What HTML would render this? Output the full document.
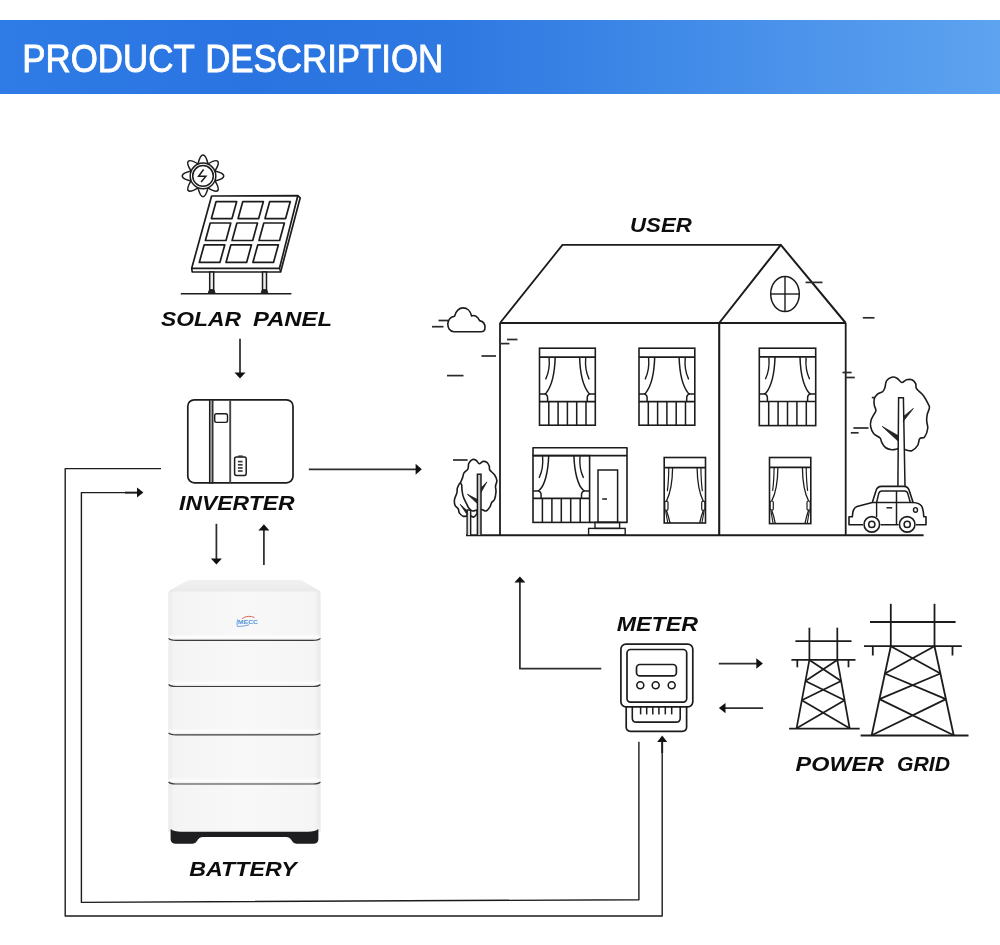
<!DOCTYPE html>
<html lang="en"><head><meta charset="utf-8"><title>Product Description</title>
<style>
html,body{margin:0;padding:0;background:#fff;}
body{width:1000px;height:945px;position:relative;overflow:hidden;font-family:"Liberation Sans",sans-serif;}
.banner{position:absolute;left:0;top:20px;width:1000px;height:74px;background:linear-gradient(90deg,#2f7ce6 0%,#2a74e1 25%,#2e78e2 45%,#3e88e7 65%,#5ea3f0 100%);}
svg{position:absolute;left:0;top:0;will-change:transform;}
</style></head><body>
<div class="banner"></div>
<svg width="1000" height="945" viewBox="0 0 1000 945">
<text y="72.2" font-family="'Liberation Sans', sans-serif" font-size="38.6" fill="#ffffff" stroke="#ffffff" stroke-width="0.9"><tspan x="22.2" textLength="171.9" lengthAdjust="spacingAndGlyphs">PRODUCT</tspan> <tspan x="205.2" textLength="238.1" lengthAdjust="spacingAndGlyphs">DESCRIPTION</tspan></text>
<g id="solar"><circle cx="203" cy="175.9" r="12.8" fill="none" stroke="#1c1c1c" stroke-width="1.5"/>
<circle cx="203" cy="175.9" r="10.3" fill="none" stroke="#1c1c1c" stroke-width="1.5"/>
<path d="M -5 -12 C -4 -16 -2.2 -20.8 0 -20.8 C 2.2 -20.8 4 -16 5 -12" fill="none" stroke="#1c1c1c" stroke-width="1.5" stroke-linejoin="round" transform="translate(203 175.9) rotate(0)"/>
<path d="M -5 -12 C -4 -16 -2.2 -20.8 0 -20.8 C 2.2 -20.8 4 -16 5 -12" fill="none" stroke="#1c1c1c" stroke-width="1.5" stroke-linejoin="round" transform="translate(203 175.9) rotate(45)"/>
<path d="M -5 -12 C -4 -16 -2.2 -20.8 0 -20.8 C 2.2 -20.8 4 -16 5 -12" fill="none" stroke="#1c1c1c" stroke-width="1.5" stroke-linejoin="round" transform="translate(203 175.9) rotate(90)"/>
<path d="M -5 -12 C -4 -16 -2.2 -20.8 0 -20.8 C 2.2 -20.8 4 -16 5 -12" fill="none" stroke="#1c1c1c" stroke-width="1.5" stroke-linejoin="round" transform="translate(203 175.9) rotate(135)"/>
<path d="M -5 -12 C -4 -16 -2.2 -20.8 0 -20.8 C 2.2 -20.8 4 -16 5 -12" fill="none" stroke="#1c1c1c" stroke-width="1.5" stroke-linejoin="round" transform="translate(203 175.9) rotate(180)"/>
<path d="M -5 -12 C -4 -16 -2.2 -20.8 0 -20.8 C 2.2 -20.8 4 -16 5 -12" fill="none" stroke="#1c1c1c" stroke-width="1.5" stroke-linejoin="round" transform="translate(203 175.9) rotate(225)"/>
<path d="M -5 -12 C -4 -16 -2.2 -20.8 0 -20.8 C 2.2 -20.8 4 -16 5 -12" fill="none" stroke="#1c1c1c" stroke-width="1.5" stroke-linejoin="round" transform="translate(203 175.9) rotate(270)"/>
<path d="M -5 -12 C -4 -16 -2.2 -20.8 0 -20.8 C 2.2 -20.8 4 -16 5 -12" fill="none" stroke="#1c1c1c" stroke-width="1.5" stroke-linejoin="round" transform="translate(203 175.9) rotate(315)"/>
<path d="M 203.6 169.5 L 198.6 176.2 L 205.9 176.2 L 201.1 181.9" fill="none" stroke="#1c1c1c" stroke-width="1.5" stroke-linejoin="miter"/>
<polygon points="211.6,196.0 297.8,195.7 279.5,268.3 191.7,268.3" fill="none" stroke="#1c1c1c" stroke-width="1.70" stroke-linejoin="round" />
<polyline points="297.8,195.7 300.2,197.8 280.6,272.0 192.2,272.0 191.7,268.3" fill="none" stroke="#1c1c1c" stroke-width="1.70" stroke-linejoin="round" />
<line x1="279.5" y1="268.3" x2="280.6" y2="272.0" stroke="#1c1c1c" stroke-width="1.30" />
<polygon points="216.1,201.6 236.7,201.6 232.0,218.6 211.4,218.6" fill="none" stroke="#1c1c1c" stroke-width="1.70" stroke-linejoin="round" />
<polygon points="242.8,201.6 263.4,201.6 258.7,218.6 238.1,218.6" fill="none" stroke="#1c1c1c" stroke-width="1.70" stroke-linejoin="round" />
<polygon points="269.7,201.6 290.3,201.6 285.6,218.6 265.0,218.6" fill="none" stroke="#1c1c1c" stroke-width="1.70" stroke-linejoin="round" />
<polygon points="210.2,223.0 230.8,223.0 226.0,240.5 205.4,240.5" fill="none" stroke="#1c1c1c" stroke-width="1.70" stroke-linejoin="round" />
<polygon points="236.9,223.0 257.5,223.0 252.7,240.5 232.1,240.5" fill="none" stroke="#1c1c1c" stroke-width="1.70" stroke-linejoin="round" />
<polygon points="263.8,223.0 284.4,223.0 279.6,240.5 259.0,240.5" fill="none" stroke="#1c1c1c" stroke-width="1.70" stroke-linejoin="round" />
<polygon points="204.2,244.8 224.8,244.8 219.9,262.4 199.3,262.4" fill="none" stroke="#1c1c1c" stroke-width="1.70" stroke-linejoin="round" />
<polygon points="230.9,244.8 251.5,244.8 246.6,262.4 226.0,262.4" fill="none" stroke="#1c1c1c" stroke-width="1.70" stroke-linejoin="round" />
<polygon points="257.8,244.8 278.4,244.8 273.5,262.4 252.9,262.4" fill="none" stroke="#1c1c1c" stroke-width="1.70" stroke-linejoin="round" />
<rect x="209.7" y="272" width="4" height="18" fill="#eee" stroke="#1c1c1c" stroke-width="1.5"/>
<path d="M 208.2 293.4 l 1.2 -3.4 h 4.6 l 1.2 3.4 z" fill="#222" stroke="#1c1c1c" stroke-width="1"/>
<rect x="262.5" y="272" width="4" height="18" fill="#eee" stroke="#1c1c1c" stroke-width="1.5"/>
<path d="M 261.0 293.4 l 1.2 -3.4 h 4.6 l 1.2 3.4 z" fill="#222" stroke="#1c1c1c" stroke-width="1"/>
<line x1="180.8" y1="293.7" x2="291.4" y2="293.7" stroke="#1c1c1c" stroke-width="1.60" /></g>
<g id="inverter"><rect x="187.8" y="399.8" width="105.2" height="83" rx="6.5" fill="none" stroke="#1c1c1c" stroke-width="1.7"/>
<rect x="209.6" y="399.8" width="3.2" height="83" fill="#9a9a9a" stroke="#1c1c1c" stroke-width="1.3"/>
<line x1="230.2" y1="399.8" x2="230.2" y2="482.8" stroke="#444" stroke-width="1.90" />
<rect x="214.7" y="413.8" width="12.8" height="8.6" rx="1.8" fill="none" stroke="#1c1c1c" stroke-width="1.4"/>
<rect x="234.6" y="457" width="11.6" height="18.4" rx="1.8" fill="none" stroke="#1c1c1c" stroke-width="1.5"/>
<rect x="238.2" y="455.4" width="4.6" height="1.8" fill="#333"/>
<line x1="237.9" y1="461.6" x2="242.6" y2="461.6" stroke="#3a3a3a" stroke-width="1.70" />
<line x1="237.9" y1="464.8" x2="242.6" y2="464.8" stroke="#3a3a3a" stroke-width="1.70" />
<line x1="237.9" y1="468.0" x2="242.6" y2="468.0" stroke="#3a3a3a" stroke-width="1.70" />
<line x1="237.9" y1="471.0" x2="242.6" y2="471.0" stroke="#3a3a3a" stroke-width="1.70" /></g>
<g id="battery"><defs>
<linearGradient id="bg1" x1="0" x2="1" y1="0" y2="0"><stop offset="0" stop-color="#ebebec"/><stop offset="0.04" stop-color="#f4f4f5"/><stop offset="0.5" stop-color="#f8f8f8"/><stop offset="0.96" stop-color="#f5f5f5"/><stop offset="1" stop-color="#e9e9ea"/></linearGradient>
<linearGradient id="bg2" x1="0" x2="0" y1="0" y2="1"><stop offset="0" stop-color="#f1f1f2"/><stop offset="1" stop-color="#e9e9ea"/></linearGradient>
<linearGradient id="bsh" x1="0" x2="0" y1="0" y2="1"><stop offset="0" stop-color="#ffffff" stop-opacity="0.0"/><stop offset="0.6" stop-color="#ffffff" stop-opacity="0.9"/><stop offset="1" stop-color="#e4e4e6" stop-opacity="0.9"/></linearGradient>
</defs>
<path d="M 168.3 593 Q 168.6 591 170.4 590 L 186 581.2 Q 188 580 191 580 L 298 580 Q 301 580 303 581.2 L 318.6 590 Q 320.4 591 320.6 593 Z" fill="url(#bg2)"/>
<path d="M 168.3 595 Q 168.3 591.6 172 591.6 L 317 591.6 Q 320.6 591.6 320.6 595 L 320.6 832 L 168.3 832 Z" fill="url(#bg1)"/>
<path d="M 170.6 829 Q 174 831.8 181 831.8 L 308 831.8 Q 315 831.8 318.4 829 L 318.4 839 Q 318.4 843.8 313 843.8 L 296.5 843.8 Q 293.5 843.8 292 841 Q 290 837 286 837 L 203 837 Q 199 837 197 841 Q 195.5 843.8 192.5 843.8 L 176 843.8 Q 170.6 843.8 170.6 839 Z" fill="#1e1e20"/>
<rect x="169" y="633.9" width="151" height="6" fill="url(#bsh)"/>
<path d="M 168.6 638.4 Q 170.5 640.4 176 640.4 L 313 640.4 Q 318.5 640.4 320.4 638.4" fill="none" stroke="#3c3c3f" stroke-width="1.15"/>
<rect x="169" y="680.0" width="151" height="6" fill="url(#bsh)"/>
<path d="M 168.6 684.5 Q 170.5 686.5 176 686.5 L 313 686.5 Q 318.5 686.5 320.4 684.5" fill="none" stroke="#3c3c3f" stroke-width="1.15"/>
<rect x="169" y="728.3" width="151" height="6" fill="url(#bsh)"/>
<path d="M 168.6 732.8 Q 170.5 734.8 176 734.8 L 313 734.8 Q 318.5 734.8 320.4 732.8" fill="none" stroke="#3c3c3f" stroke-width="1.15"/>
<rect x="169" y="777.5" width="151" height="6" fill="url(#bsh)"/>
<path d="M 168.6 782.0 Q 170.5 784.0 176 784.0 L 313 784.0 Q 318.5 784.0 320.4 782.0" fill="none" stroke="#3c3c3f" stroke-width="1.15"/>
<text x="238" y="623.8" font-family="'Liberation Sans', sans-serif" font-weight="bold" font-size="6" fill="#4a8edb" textLength="20" lengthAdjust="spacingAndGlyphs">MECC</text>
<path d="M 242 618.6 Q 248 614.6 254.6 617.6" fill="none" stroke="#e0584d" stroke-width="0.9"/>
<path d="M 237.6 619.4 Q 236.4 624 237.4 626.4 Q 244 626.6 249 624.8" fill="none" stroke="#4a8edb" stroke-width="0.8"/></g>
<g id="house"><line x1="500.0" y1="323.0" x2="500.0" y2="535.2" stroke="#1c1c1c" stroke-width="1.80" />
<line x1="719.2" y1="323.0" x2="719.2" y2="535.2" stroke="#1c1c1c" stroke-width="2.10" />
<line x1="845.7" y1="323.0" x2="845.7" y2="535.2" stroke="#1c1c1c" stroke-width="1.80" />
<line x1="500.0" y1="323.0" x2="845.7" y2="323.0" stroke="#1c1c1c" stroke-width="1.80" />
<polyline points="500.0,323.0 562.5,244.9 780.8,244.9" fill="none" stroke="#1c1c1c" stroke-width="1.80" stroke-linejoin="round" />
<polyline points="719.2,323.0 780.8,244.9 845.7,323.0" fill="none" stroke="#1c1c1c" stroke-width="2.00" stroke-linejoin="round" />
<line x1="466.0" y1="535.2" x2="923.6" y2="535.2" stroke="#1c1c1c" stroke-width="1.90" />
<ellipse cx="785" cy="294" rx="14.3" ry="17.6" fill="none" stroke="#1c1c1c" stroke-width="1.5"/>
<line x1="785.0" y1="276.4" x2="785.0" y2="311.6" stroke="#1c1c1c" stroke-width="1.40" />
<line x1="770.7" y1="294.0" x2="799.3" y2="294.0" stroke="#1c1c1c" stroke-width="1.40" />
<rect x="539.5" y="348.2" width="55.8" height="77.0" fill="none" stroke="#1c1c1c" stroke-width="1.60"/>
<line x1="539.5" y1="357.1" x2="595.3" y2="357.1" stroke="#1c1c1c" stroke-width="1.60" />
<line x1="539.5" y1="401.6" x2="595.3" y2="401.6" stroke="#1c1c1c" stroke-width="1.60" />
<line x1="548.8" y1="401.6" x2="548.8" y2="425.2" stroke="#1c1c1c" stroke-width="1.52" />
<line x1="558.1" y1="401.6" x2="558.1" y2="425.2" stroke="#1c1c1c" stroke-width="1.52" />
<line x1="567.4" y1="401.6" x2="567.4" y2="425.2" stroke="#1c1c1c" stroke-width="1.52" />
<line x1="576.7" y1="401.6" x2="576.7" y2="425.2" stroke="#1c1c1c" stroke-width="1.52" />
<line x1="586.0" y1="401.6" x2="586.0" y2="425.2" stroke="#1c1c1c" stroke-width="1.52" />
<path d="M 555.2 357.1 C 554.7 374.1 551.0 387.1 546.1 393.1 Q 545.3 394.1 543.5 394.1 L 539.5 394.1" fill="none" stroke="#1c1c1c" stroke-width="1.5"/>
<path d="M 549.1 358.1 C 549.9 367.1 548.5 373.1 545.8 378.9" fill="none" stroke="#1c1c1c" stroke-width="1.4" stroke-linecap="round"/>
<path d="M 544.5 394.1 Q 547.6 394.5 547.6 398.1 L 547.6 401.6" fill="none" stroke="#1c1c1c" stroke-width="1.5"/>
<path d="M 579.6 357.1 C 580.1 374.1 583.8 387.1 588.7 393.1 Q 589.5 394.1 591.3 394.1 L 595.3 394.1" fill="none" stroke="#1c1c1c" stroke-width="1.5"/>
<path d="M 585.7 358.1 C 584.9 367.1 586.3 373.1 589.0 378.9" fill="none" stroke="#1c1c1c" stroke-width="1.4" stroke-linecap="round"/>
<path d="M 590.3 394.1 Q 587.2 394.5 587.2 398.1 L 587.2 401.6" fill="none" stroke="#1c1c1c" stroke-width="1.5"/>
<rect x="639.0" y="348.2" width="55.8" height="77.0" fill="none" stroke="#1c1c1c" stroke-width="1.60"/>
<line x1="639.0" y1="357.1" x2="694.8" y2="357.1" stroke="#1c1c1c" stroke-width="1.60" />
<line x1="639.0" y1="401.6" x2="694.8" y2="401.6" stroke="#1c1c1c" stroke-width="1.60" />
<line x1="648.3" y1="401.6" x2="648.3" y2="425.2" stroke="#1c1c1c" stroke-width="1.52" />
<line x1="657.6" y1="401.6" x2="657.6" y2="425.2" stroke="#1c1c1c" stroke-width="1.52" />
<line x1="666.9" y1="401.6" x2="666.9" y2="425.2" stroke="#1c1c1c" stroke-width="1.52" />
<line x1="676.2" y1="401.6" x2="676.2" y2="425.2" stroke="#1c1c1c" stroke-width="1.52" />
<line x1="685.5" y1="401.6" x2="685.5" y2="425.2" stroke="#1c1c1c" stroke-width="1.52" />
<path d="M 654.7 357.1 C 654.2 374.1 650.5 387.1 645.6 393.1 Q 644.8 394.1 643.0 394.1 L 639.0 394.1" fill="none" stroke="#1c1c1c" stroke-width="1.5"/>
<path d="M 648.6 358.1 C 649.4 367.1 648.0 373.1 645.3 378.9" fill="none" stroke="#1c1c1c" stroke-width="1.4" stroke-linecap="round"/>
<path d="M 644.0 394.1 Q 647.1 394.5 647.1 398.1 L 647.1 401.6" fill="none" stroke="#1c1c1c" stroke-width="1.5"/>
<path d="M 679.1 357.1 C 679.6 374.1 683.3 387.1 688.2 393.1 Q 689.0 394.1 690.8 394.1 L 694.8 394.1" fill="none" stroke="#1c1c1c" stroke-width="1.5"/>
<path d="M 685.2 358.1 C 684.4 367.1 685.8 373.1 688.5 378.9" fill="none" stroke="#1c1c1c" stroke-width="1.4" stroke-linecap="round"/>
<path d="M 689.8 394.1 Q 686.7 394.5 686.7 398.1 L 686.7 401.6" fill="none" stroke="#1c1c1c" stroke-width="1.5"/>
<rect x="759.3" y="348.2" width="56.4" height="77.4" fill="none" stroke="#1c1c1c" stroke-width="1.60"/>
<line x1="759.3" y1="356.9" x2="815.7" y2="356.9" stroke="#1c1c1c" stroke-width="1.60" />
<line x1="759.3" y1="401.5" x2="815.7" y2="401.5" stroke="#1c1c1c" stroke-width="1.60" />
<line x1="768.7" y1="401.5" x2="768.7" y2="425.6" stroke="#1c1c1c" stroke-width="1.52" />
<line x1="778.1" y1="401.5" x2="778.1" y2="425.6" stroke="#1c1c1c" stroke-width="1.52" />
<line x1="787.5" y1="401.5" x2="787.5" y2="425.6" stroke="#1c1c1c" stroke-width="1.52" />
<line x1="796.9" y1="401.5" x2="796.9" y2="425.6" stroke="#1c1c1c" stroke-width="1.52" />
<line x1="806.3" y1="401.5" x2="806.3" y2="425.6" stroke="#1c1c1c" stroke-width="1.52" />
<path d="M 775.0 356.9 C 774.5 373.9 770.8 386.9 765.9 393.0 Q 765.1 394.0 763.3 394.0 L 759.3 394.0" fill="none" stroke="#1c1c1c" stroke-width="1.5"/>
<path d="M 768.9 357.9 C 769.7 366.9 768.3 372.9 765.6 378.7" fill="none" stroke="#1c1c1c" stroke-width="1.4" stroke-linecap="round"/>
<path d="M 764.3 394.0 Q 767.4 394.4 767.4 398.0 L 767.4 401.5" fill="none" stroke="#1c1c1c" stroke-width="1.5"/>
<path d="M 800.0 356.9 C 800.5 373.9 804.2 386.9 809.1 393.0 Q 809.9 394.0 811.7 394.0 L 815.7 394.0" fill="none" stroke="#1c1c1c" stroke-width="1.5"/>
<path d="M 806.1 357.9 C 805.3 366.9 806.7 372.9 809.4 378.7" fill="none" stroke="#1c1c1c" stroke-width="1.4" stroke-linecap="round"/>
<path d="M 810.7 394.0 Q 807.6 394.4 807.6 398.0 L 807.6 401.5" fill="none" stroke="#1c1c1c" stroke-width="1.5"/>
<rect x="533.0" y="455.6" width="56.6" height="66.8" fill="none" stroke="#1c1c1c" stroke-width="1.60"/>
<line x1="533.0" y1="455.6" x2="589.6" y2="455.6" stroke="#1c1c1c" stroke-width="1.60" />
<line x1="533.0" y1="498.4" x2="589.6" y2="498.4" stroke="#1c1c1c" stroke-width="1.60" />
<line x1="542.4" y1="498.4" x2="542.4" y2="522.4" stroke="#1c1c1c" stroke-width="1.52" />
<line x1="551.9" y1="498.4" x2="551.9" y2="522.4" stroke="#1c1c1c" stroke-width="1.52" />
<line x1="561.3" y1="498.4" x2="561.3" y2="522.4" stroke="#1c1c1c" stroke-width="1.52" />
<line x1="570.7" y1="498.4" x2="570.7" y2="522.4" stroke="#1c1c1c" stroke-width="1.52" />
<line x1="580.2" y1="498.4" x2="580.2" y2="522.4" stroke="#1c1c1c" stroke-width="1.52" />
<path d="M 548.7 455.6 C 548.2 472.6 544.5 485.6 539.6 489.9 Q 538.8 490.9 537.0 490.9 L 533.0 490.9" fill="none" stroke="#1c1c1c" stroke-width="1.5"/>
<path d="M 542.6 456.6 C 543.4 465.6 542.0 471.6 539.3 477.4" fill="none" stroke="#1c1c1c" stroke-width="1.4" stroke-linecap="round"/>
<path d="M 538.0 490.9 Q 541.1 491.3 541.1 494.9 L 541.1 498.4" fill="none" stroke="#1c1c1c" stroke-width="1.5"/>
<path d="M 573.9 455.6 C 574.4 472.6 578.1 485.6 583.0 489.9 Q 583.8 490.9 585.6 490.9 L 589.6 490.9" fill="none" stroke="#1c1c1c" stroke-width="1.5"/>
<path d="M 580.0 456.6 C 579.2 465.6 580.6 471.6 583.3 477.4" fill="none" stroke="#1c1c1c" stroke-width="1.4" stroke-linecap="round"/>
<path d="M 584.6 490.9 Q 581.5 491.3 581.5 494.9 L 581.5 498.4" fill="none" stroke="#1c1c1c" stroke-width="1.5"/>
<polyline points="533.0,455.6 533.0,447.8 627.0,447.8 627.0,522.4 589.6,522.4" fill="none" stroke="#1c1c1c" stroke-width="1.60" stroke-linejoin="round" />
<line x1="589.6" y1="455.6" x2="627.0" y2="455.6" stroke="#1c1c1c" stroke-width="1.60" />
<rect x="598" y="470" width="19.6" height="52.4" fill="none" stroke="#1c1c1c" stroke-width="1.5"/>
<line x1="602.2" y1="499.0" x2="607.0" y2="499.0" stroke="#1c1c1c" stroke-width="1.50" />
<rect x="595" y="522.4" width="24.6" height="6" fill="none" stroke="#1c1c1c" stroke-width="1.4"/>
<rect x="588.6" y="528.4" width="36.6" height="6.6" fill="none" stroke="#1c1c1c" stroke-width="1.4"/>
<rect x="664.2" y="457.5" width="41.3" height="65.5" fill="none" stroke="#1c1c1c" stroke-width="1.6"/>
<line x1="664.2" y1="467.6" x2="705.5" y2="467.6" stroke="#1c1c1c" stroke-width="1.60" />
<path d="M 672.6 467.6 C 672.4 483.6 669.8 494.6 666.4 501.2" fill="none" stroke="#1c1c1c" stroke-width="1.3"/>
<path d="M 668.8 468.2 Q 668.6 481.6 667.4 490.6" fill="none" stroke="#1c1c1c" stroke-width="1.2" stroke-linecap="round"/>
<rect x="664.8" y="501.2" width="3.2" height="9.2" rx="1.4" fill="none" stroke="#1c1c1c" stroke-width="1.2"/>
<path d="M 666.4 510.4 Q 668.6 516.2 670.0 523.0" fill="none" stroke="#1c1c1c" stroke-width="1.3"/>
<path d="M 665.6 510.8 L 667.8 523.0" fill="none" stroke="#1c1c1c" stroke-width="1.1"/>
<path d="M 697.1 467.6 C 697.3 483.6 699.9 494.6 703.3 501.2" fill="none" stroke="#1c1c1c" stroke-width="1.3"/>
<path d="M 700.9 468.2 Q 701.1 481.6 702.3 490.6" fill="none" stroke="#1c1c1c" stroke-width="1.2" stroke-linecap="round"/>
<rect x="701.7" y="501.2" width="3.2" height="9.2" rx="1.4" fill="none" stroke="#1c1c1c" stroke-width="1.2"/>
<path d="M 703.3 510.4 Q 701.1 516.2 699.7 523.0" fill="none" stroke="#1c1c1c" stroke-width="1.3"/>
<path d="M 704.1 510.8 L 701.9 523.0" fill="none" stroke="#1c1c1c" stroke-width="1.1"/>
<rect x="769.5" y="457.5" width="41.3" height="66.1" fill="none" stroke="#1c1c1c" stroke-width="1.6"/>
<line x1="769.5" y1="467.4" x2="810.8" y2="467.4" stroke="#1c1c1c" stroke-width="1.60" />
<path d="M 777.9 467.4 C 777.7 483.4 775.1 494.4 771.7 501.0" fill="none" stroke="#1c1c1c" stroke-width="1.3"/>
<path d="M 774.1 468.0 Q 773.9 481.4 772.7 490.4" fill="none" stroke="#1c1c1c" stroke-width="1.2" stroke-linecap="round"/>
<rect x="770.1" y="501.0" width="3.2" height="9.2" rx="1.4" fill="none" stroke="#1c1c1c" stroke-width="1.2"/>
<path d="M 771.7 510.2 Q 773.9 516.0 775.3 523.6" fill="none" stroke="#1c1c1c" stroke-width="1.3"/>
<path d="M 770.9 510.6 L 773.1 523.6" fill="none" stroke="#1c1c1c" stroke-width="1.1"/>
<path d="M 802.4 467.4 C 802.6 483.4 805.2 494.4 808.6 501.0" fill="none" stroke="#1c1c1c" stroke-width="1.3"/>
<path d="M 806.2 468.0 Q 806.4 481.4 807.6 490.4" fill="none" stroke="#1c1c1c" stroke-width="1.2" stroke-linecap="round"/>
<rect x="807.0" y="501.0" width="3.2" height="9.2" rx="1.4" fill="none" stroke="#1c1c1c" stroke-width="1.2"/>
<path d="M 808.6 510.2 Q 806.4 516.0 805.0 523.6" fill="none" stroke="#1c1c1c" stroke-width="1.3"/>
<path d="M 809.4 510.6 L 807.2 523.6" fill="none" stroke="#1c1c1c" stroke-width="1.1"/>
<line x1="432.0" y1="326.7" x2="443.5" y2="326.7" stroke="#2a2a2a" stroke-width="1.70" />
<line x1="438.5" y1="320.5" x2="448.0" y2="320.5" stroke="#2a2a2a" stroke-width="1.70" />
<line x1="507.0" y1="339.5" x2="517.5" y2="339.5" stroke="#2a2a2a" stroke-width="1.70" />
<line x1="501.0" y1="343.6" x2="509.4" y2="343.6" stroke="#2a2a2a" stroke-width="1.70" />
<line x1="481.5" y1="356.0" x2="496.0" y2="356.0" stroke="#2a2a2a" stroke-width="1.70" />
<line x1="447.0" y1="375.6" x2="463.5" y2="375.6" stroke="#2a2a2a" stroke-width="1.70" />
<line x1="805.6" y1="282.4" x2="822.5" y2="282.4" stroke="#2a2a2a" stroke-width="1.70" />
<line x1="862.8" y1="317.8" x2="874.5" y2="317.8" stroke="#2a2a2a" stroke-width="1.70" />
<line x1="842.5" y1="372.5" x2="851.6" y2="372.5" stroke="#2a2a2a" stroke-width="1.70" />
<line x1="845.5" y1="377.5" x2="854.8" y2="377.5" stroke="#2a2a2a" stroke-width="1.70" />
<line x1="853.4" y1="428.0" x2="868.5" y2="428.0" stroke="#2a2a2a" stroke-width="1.70" />
<line x1="850.8" y1="432.8" x2="858.6" y2="432.8" stroke="#2a2a2a" stroke-width="1.70" />
<line x1="871.8" y1="397.6" x2="876.8" y2="397.6" stroke="#2a2a2a" stroke-width="1.70" />
<line x1="453.0" y1="460.0" x2="467.6" y2="460.0" stroke="#2a2a2a" stroke-width="1.70" />
<path d="M 454 331.7 C 449.8 331.7 447.8 327.8 447.8 324 C 447.8 320 450.6 316.5 454.6 316.2 C 455.6 311 459.4 307.9 463 307.9 C 467 307.9 470.6 311 471.6 316 C 474.4 314.6 477.8 316.6 479.6 320.6 C 483 321.4 485 324.4 485 327.4 C 485 330 483.2 331.7 481 331.7 Z" fill="#fff" stroke="#1c1c1c" stroke-width="1.6" stroke-linejoin="round"/></g>
<g id="ltrees"><path d="M 460.7 482.9 C 459.6 482.6 458.0 486.4 457.4 488.1 C 456.8 489.8 457.4 491.0 456.9 492.9 C 456.4 494.8 454.8 497.4 454.5 499.5 C 454.2 501.6 454.4 503.6 455.0 505.2 C 455.6 506.8 457.6 507.7 458.3 509.0 C 459.0 510.3 458.5 511.7 459.3 512.9 C 460.1 514.1 461.8 515.7 463.1 516.2 C 464.5 516.7 466.1 516.0 467.4 515.9 C 468.7 515.8 469.7 515.7 470.7 515.9 C 471.7 516.1 472.7 517.3 473.6 517.1 C 474.5 516.9 475.4 515.8 476.0 514.8 C 476.6 513.8 477.9 513.5 476.9 511.0 C 475.9 508.5 472.1 503.5 470.0 500.0 C 467.9 496.5 465.6 492.9 464.0 490.0 C 462.4 487.1 461.8 483.2 460.7 482.9 Z" fill="#fff" stroke="#1c1c1c" stroke-width="1.6" stroke-linejoin="round"/>
<path d="M 467.1 535 V 510 H 470.7 V 535" fill="#ddd" stroke="#1c1c1c" stroke-width="1.4"/>
<path d="M 467.4 511 L 460.2 504.3 L 467.4 515" fill="#222" stroke="#1c1c1c" stroke-width="0.8" stroke-linejoin="round"/>
<path d="M 472.6 459.5 C 473.9 459.0 475.3 459.8 476.4 460.5 C 477.5 461.2 478.2 463.7 479.3 463.8 C 480.4 463.9 481.8 461.6 483.1 461.4 C 484.4 461.2 485.9 461.6 486.9 462.4 C 487.9 463.2 488.8 464.9 489.3 466.2 C 489.8 467.5 488.9 468.6 489.8 470.0 C 490.7 471.4 493.3 473.1 494.5 474.8 C 495.7 476.6 496.7 478.6 496.9 480.5 C 497.1 482.4 495.6 484.3 495.5 486.2 C 495.4 488.1 496.2 489.7 496.0 491.9 C 495.8 494.1 495.2 497.8 494.5 499.5 C 493.8 501.2 492.5 501.1 491.7 502.4 C 490.9 503.7 490.8 505.7 489.8 507.1 C 488.9 508.5 487.4 510.6 486.0 511.0 C 484.6 511.4 483.2 509.7 481.7 509.5 C 480.2 509.3 478.4 509.8 476.9 510.0 C 475.4 510.2 474.0 511.3 472.6 511.0 C 471.2 510.7 469.8 509.4 468.8 508.1 C 467.8 506.8 467.3 505.1 466.4 503.3 C 465.5 501.6 464.3 499.7 463.6 497.6 C 462.9 495.6 462.4 493.1 462.1 491.0 C 461.8 488.9 461.9 486.6 461.7 485.2 C 461.5 483.8 460.5 483.7 460.7 482.4 C 460.9 481.1 462.1 479.2 462.6 477.6 C 463.2 476.0 463.1 474.3 464.0 472.9 C 464.9 471.5 467.1 470.6 467.9 469.0 C 468.7 467.4 468.0 464.9 468.8 463.3 C 469.6 461.7 471.3 460.0 472.6 459.5 Z" fill="#fff" stroke="#1c1c1c" stroke-width="1.6" stroke-linejoin="round"/>
<path d="M 477.4 535 V 474.3 H 481 V 535" fill="#ccc" stroke="#1c1c1c" stroke-width="1.5"/>
<path d="M 481 488.1 L 486.9 481.9 L 481 492.4" fill="#222" stroke="#1c1c1c" stroke-width="0.8" stroke-linejoin="round"/>
<path d="M 477.4 499.5 L 467.4 494.3 L 477.4 503.6" fill="#222" stroke="#1c1c1c" stroke-width="0.8" stroke-linejoin="round"/></g>
<g id="rtree"><path d="M 891.7 377.2 C 893.5 376.8 895.3 377.3 897.0 378.2 C 898.7 379.1 900.2 382.2 901.8 382.5 C 903.4 382.8 904.9 380.2 906.6 379.8 C 908.3 379.4 910.4 379.2 911.9 379.8 C 913.4 380.4 914.8 382.0 915.6 383.5 C 916.4 385.0 915.3 386.8 916.6 388.8 C 917.9 390.8 921.5 393.0 923.5 395.7 C 925.5 398.4 927.8 403.1 928.8 405.2 C 929.8 407.3 929.6 406.8 929.3 408.4 C 929.0 410.0 927.6 412.6 927.2 414.7 C 926.8 416.8 926.6 418.8 926.7 421.1 C 926.8 423.4 928.1 425.9 927.7 428.5 C 927.4 431.1 925.9 435.3 924.6 437.0 C 923.3 438.7 920.9 437.1 919.8 438.5 C 918.6 439.9 919.0 443.4 917.7 445.4 C 916.4 447.4 913.9 450.0 911.9 450.7 C 909.9 451.4 907.3 450.1 905.5 449.7 C 903.7 449.2 902.4 448.1 901.0 448.0 C 899.6 447.9 898.5 448.7 897.0 449.0 C 895.5 449.3 893.6 449.9 891.7 449.7 C 889.8 449.4 887.1 448.8 885.4 447.5 C 883.7 446.2 882.6 443.8 881.7 442.2 C 880.8 440.6 881.4 439.4 880.1 438.0 C 878.8 436.6 875.4 435.7 873.8 433.8 C 872.2 431.9 871.0 428.7 870.6 426.4 C 870.2 424.1 870.6 421.9 871.1 420.0 C 871.6 418.1 873.0 416.3 873.8 414.7 C 874.6 413.1 875.8 412.1 875.9 410.5 C 876.0 408.9 874.6 407.1 874.3 405.2 C 874.0 403.3 873.8 400.8 874.3 398.9 C 874.8 397.0 876.1 395.3 877.5 394.1 C 878.9 392.9 881.6 392.6 882.8 391.5 C 884.0 390.4 884.3 389.6 884.9 387.8 C 885.5 386.0 885.4 382.7 886.5 380.9 C 887.6 379.1 890.0 377.6 891.7 377.2 Z" fill="#fff" stroke="#1c1c1c" stroke-width="1.6" stroke-linejoin="round"/>
<path d="M 897.9 486.4 L 898.6 397.8 H 903.4 L 905 486.4" fill="#fff" stroke="#1c1c1c" stroke-width="1.5"/>
<path d="M 903 416.9 L 913.4 408.4 L 903 421.6" fill="#222" stroke="#1c1c1c" stroke-width="0.8" stroke-linejoin="round"/>
<path d="M 898.6 435.9 L 882.2 426.4 L 898.6 441.6" fill="#222" stroke="#1c1c1c" stroke-width="0.8" stroke-linejoin="round"/>
<path d="M 863 524.7 L 849 524.7 L 849 516.8 L 852.3 516.8 L 852.9 512 Q 853.6 508 857 506.6 L 872.3 502.5 L 876 490.7 Q 877.2 486.4 881.5 486.4 L 904 486.4 Q 908 486.4 909.3 490.7 L 913.1 502.5 Q 919.6 502.8 921.6 506.2 Q 923.4 509.2 923.8 516.8 L 926 516.8 L 926 524.7 L 916 524.7 M 898.5 524.7 L 880.6 524.7" fill="none" stroke="#1c1c1c" stroke-width="1.6" stroke-linejoin="round"/>
<path d="M 876.6 502.5 L 878.7 493.6 Q 879.4 491.1 882 491.1 L 904.5 491.1 Q 907 491.1 907.8 493.6 L 910.3 502.5" fill="none" stroke="#1c1c1c" stroke-width="1.5" stroke-linejoin="round"/>
<line x1="872.3" y1="502.5" x2="913.1" y2="502.5" stroke="#1c1c1c" stroke-width="1.50" />
<line x1="896.5" y1="491.1" x2="896.5" y2="524.6" stroke="#1c1c1c" stroke-width="1.50" />
<line x1="876.6" y1="502.5" x2="876.6" y2="517.0" stroke="#1c1c1c" stroke-width="1.40" />
<line x1="886.5" y1="507.8" x2="892.2" y2="507.8" stroke="#1c1c1c" stroke-width="1.50" />
<ellipse cx="915.5" cy="509.9" rx="2" ry="2.3" fill="none" stroke="#1c1c1c" stroke-width="1.4"/>
<circle cx="871.8" cy="524.4" r="7.75" fill="#fff" stroke="#1c1c1c" stroke-width="1.6"/>
<circle cx="871.8" cy="524.4" r="3.1" fill="none" stroke="#1c1c1c" stroke-width="1.5"/>
<circle cx="907.2" cy="524.4" r="7.75" fill="#fff" stroke="#1c1c1c" stroke-width="1.6"/>
<circle cx="907.2" cy="524.4" r="3.1" fill="none" stroke="#1c1c1c" stroke-width="1.5"/></g>
<g id="meter"><rect x="620.9" y="644.2" width="71.9" height="62.6" rx="5" fill="none" stroke="#1c1c1c" stroke-width="1.7"/>
<rect x="627" y="649.5" width="59.7" height="52.6" rx="3.5" fill="none" stroke="#1c1c1c" stroke-width="1.7"/>
<rect x="636.5" y="664.5" width="39.9" height="11.3" rx="3.4" fill="none" stroke="#1c1c1c" stroke-width="1.7"/>
<circle cx="640.3" cy="685.2" r="3.5" fill="none" stroke="#1c1c1c" stroke-width="1.6"/>
<circle cx="655.7" cy="685.2" r="3.5" fill="none" stroke="#1c1c1c" stroke-width="1.6"/>
<circle cx="671.7" cy="685.2" r="3.5" fill="none" stroke="#1c1c1c" stroke-width="1.6"/>
<path d="M 626.2 706.8 V 727 Q 626.2 731.3 630.6 731.3 H 682.2 Q 686.6 731.3 686.6 727 V 706.8" fill="none" stroke="#1c1c1c" stroke-width="1.7"/>
<path d="M 632.3 706.8 V 718.2 Q 632.3 722.1 636.3 722.1 H 676.2 Q 680.2 722.1 680.2 718.2 V 706.8" fill="none" stroke="#1c1c1c" stroke-width="1.6"/>
<line x1="640.6" y1="707.0" x2="640.6" y2="714.4" stroke="#1c1c1c" stroke-width="1.50" />
<line x1="646.7" y1="707.0" x2="646.7" y2="714.4" stroke="#1c1c1c" stroke-width="1.50" />
<line x1="652.8" y1="707.0" x2="652.8" y2="714.4" stroke="#1c1c1c" stroke-width="1.50" />
<line x1="658.9" y1="707.0" x2="658.9" y2="714.4" stroke="#1c1c1c" stroke-width="1.50" />
<line x1="665.3" y1="707.0" x2="665.3" y2="714.4" stroke="#1c1c1c" stroke-width="1.50" />
<line x1="671.7" y1="707.0" x2="671.7" y2="714.4" stroke="#1c1c1c" stroke-width="1.50" /></g>
<g id="grid"><line x1="809.4" y1="627.7" x2="809.4" y2="659.9" stroke="#1c1c1c" stroke-width="1.75" />
<line x1="837.3" y1="627.7" x2="837.3" y2="659.9" stroke="#1c1c1c" stroke-width="1.75" />
<line x1="795.4" y1="641.2" x2="851.5" y2="641.2" stroke="#1c1c1c" stroke-width="1.75" />
<line x1="791.4" y1="659.9" x2="855.5" y2="659.9" stroke="#1c1c1c" stroke-width="1.75" />
<line x1="797.3" y1="659.9" x2="797.3" y2="667.3" stroke="#1c1c1c" stroke-width="1.75" />
<line x1="848.5" y1="659.9" x2="848.5" y2="667.3" stroke="#1c1c1c" stroke-width="1.75" />
<line x1="809.4" y1="659.9" x2="796.6" y2="728.2" stroke="#1c1c1c" stroke-width="1.75" />
<line x1="837.3" y1="659.9" x2="849.6" y2="728.2" stroke="#1c1c1c" stroke-width="1.75" />
<line x1="789.1" y1="728.5" x2="859.7" y2="728.5" stroke="#1c1c1c" stroke-width="1.75" />
<line x1="809.4" y1="659.9" x2="841.1" y2="681.0" stroke="#1c1c1c" stroke-width="1.75" />
<line x1="837.3" y1="659.9" x2="805.4" y2="681.0" stroke="#1c1c1c" stroke-width="1.75" />
<line x1="805.4" y1="681.0" x2="844.6" y2="700.3" stroke="#1c1c1c" stroke-width="1.75" />
<line x1="841.1" y1="681.0" x2="801.8" y2="700.3" stroke="#1c1c1c" stroke-width="1.75" />
<line x1="801.8" y1="700.3" x2="849.6" y2="728.2" stroke="#1c1c1c" stroke-width="1.75" />
<line x1="844.6" y1="700.3" x2="796.6" y2="728.2" stroke="#1c1c1c" stroke-width="1.75" /><line x1="890.8" y1="603.8" x2="890.8" y2="646.2" stroke="#1c1c1c" stroke-width="1.80" />
<line x1="934.5" y1="603.8" x2="934.5" y2="646.2" stroke="#1c1c1c" stroke-width="1.80" />
<line x1="870.0" y1="622.0" x2="955.6" y2="622.0" stroke="#1c1c1c" stroke-width="1.80" />
<line x1="864.0" y1="646.2" x2="961.8" y2="646.2" stroke="#1c1c1c" stroke-width="1.80" />
<line x1="872.8" y1="646.2" x2="872.8" y2="655.5" stroke="#1c1c1c" stroke-width="1.80" />
<line x1="952.5" y1="646.2" x2="952.5" y2="655.5" stroke="#1c1c1c" stroke-width="1.80" />
<line x1="890.8" y1="646.2" x2="871.7" y2="735.2" stroke="#1c1c1c" stroke-width="1.80" />
<line x1="934.5" y1="646.2" x2="953.7" y2="735.2" stroke="#1c1c1c" stroke-width="1.80" />
<line x1="860.6" y1="735.5" x2="968.5" y2="735.5" stroke="#1c1c1c" stroke-width="1.80" />
<line x1="890.8" y1="646.2" x2="940.4" y2="673.5" stroke="#1c1c1c" stroke-width="1.80" />
<line x1="934.5" y1="646.2" x2="884.9" y2="673.5" stroke="#1c1c1c" stroke-width="1.80" />
<line x1="884.9" y1="673.5" x2="945.9" y2="699.1" stroke="#1c1c1c" stroke-width="1.80" />
<line x1="940.4" y1="673.5" x2="879.4" y2="699.1" stroke="#1c1c1c" stroke-width="1.80" />
<line x1="879.4" y1="699.1" x2="953.7" y2="735.2" stroke="#1c1c1c" stroke-width="1.80" />
<line x1="945.9" y1="699.1" x2="871.7" y2="735.2" stroke="#1c1c1c" stroke-width="1.80" /></g>
<g id="conn"><line x1="240.0" y1="338.8" x2="240.0" y2="374.0" stroke="#2e2e2e" stroke-width="1.75" />
<polygon points="240.0,378.6 234.5,372.4 245.5,372.4" fill="#111"/>
<line x1="308.8" y1="469.3" x2="417.0" y2="469.3" stroke="#2e2e2e" stroke-width="1.75" />
<polygon points="421.8,469.3 415.6,463.8 415.6,474.8" fill="#111"/>
<line x1="216.4" y1="523.8" x2="216.4" y2="560.0" stroke="#2e2e2e" stroke-width="1.75" />
<polygon points="216.4,564.6 210.9,558.4 221.9,558.4" fill="#111"/>
<line x1="263.9" y1="565.0" x2="263.9" y2="529.0" stroke="#2e2e2e" stroke-width="1.75" />
<polygon points="263.9,524.2 258.4,530.4 269.4,530.4" fill="#111"/>
<polyline points="161.0,468.6 65.2,468.6 65.2,916.0 662.2,916.0 662.2,741.0" fill="none" stroke="#1c1c1c" stroke-width="1.40" stroke-linejoin="round" />
<polygon points="662.2,735.6 657.2,742.0 667.2,742.0" fill="#111"/>
<line x1="662.2" y1="741.0" x2="662.2" y2="753.0" stroke="#1c1c1c" stroke-width="1.90" />
<polyline points="638.9,741.8 638.9,899.7 81.4,902.4 81.4,492.6 138.0,492.6" fill="none" stroke="#1c1c1c" stroke-width="1.40" stroke-linejoin="round" />
<line x1="125.0" y1="492.6" x2="138.0" y2="492.6" stroke="#1c1c1c" stroke-width="1.90" />
<polygon points="143.4,492.6 137.0,487.6 137.0,497.6" fill="#111"/>
<polyline points="601.3,668.7 519.9,668.7 519.9,582.0" fill="none" stroke="#2e2e2e" stroke-width="1.75" stroke-linejoin="round" />
<polygon points="519.9,576.4 514.4,582.6 525.4,582.6" fill="#111"/>
<line x1="718.8" y1="663.5" x2="757.0" y2="663.5" stroke="#2e2e2e" stroke-width="1.75" />
<polygon points="762.9,663.5 756.3,658.3 756.3,668.7" fill="#111"/>
<line x1="763.1" y1="708.1" x2="724.0" y2="708.1" stroke="#2e2e2e" stroke-width="1.75" />
<polygon points="718.9,708.1 725.5,702.9 725.5,713.3" fill="#111"/></g>
<text opacity="0.999" y="326.0" font-family="'Liberation Sans', sans-serif" font-weight="bold" font-style="italic" font-size="20.2" fill="#0d0d0d"><tspan x="161.0" textLength="80.0" lengthAdjust="spacingAndGlyphs">SOLAR</tspan> <tspan x="253.0" textLength="79.0" lengthAdjust="spacingAndGlyphs">PANEL</tspan></text>
<text opacity="0.999" x="179.1" y="509.9" font-family="'Liberation Sans', sans-serif" font-weight="bold" font-style="italic" font-size="20.2" fill="#0d0d0d" textLength="115.5" lengthAdjust="spacingAndGlyphs">INVERTER</text>
<text opacity="0.999" x="189.3" y="876.3" font-family="'Liberation Sans', sans-serif" font-weight="bold" font-style="italic" font-size="20.2" fill="#0d0d0d" textLength="107.4" lengthAdjust="spacingAndGlyphs">BATTERY</text>
<text opacity="0.999" x="630.1" y="231.9" font-family="'Liberation Sans', sans-serif" font-weight="bold" font-style="italic" font-size="20.2" fill="#0d0d0d" textLength="61.6" lengthAdjust="spacingAndGlyphs">USER</text>
<text opacity="0.999" x="616.8" y="630.5" font-family="'Liberation Sans', sans-serif" font-weight="bold" font-style="italic" font-size="20.2" fill="#0d0d0d" textLength="81.2" lengthAdjust="spacingAndGlyphs">METER</text>
<text opacity="0.999" y="771.0" font-family="'Liberation Sans', sans-serif" font-weight="bold" font-style="italic" font-size="20.2" fill="#0d0d0d"><tspan x="795.6" textLength="88.4" lengthAdjust="spacingAndGlyphs">POWER</tspan> <tspan x="897.0" textLength="53.0" lengthAdjust="spacingAndGlyphs">GRID</tspan></text>
</svg>
</body></html>
